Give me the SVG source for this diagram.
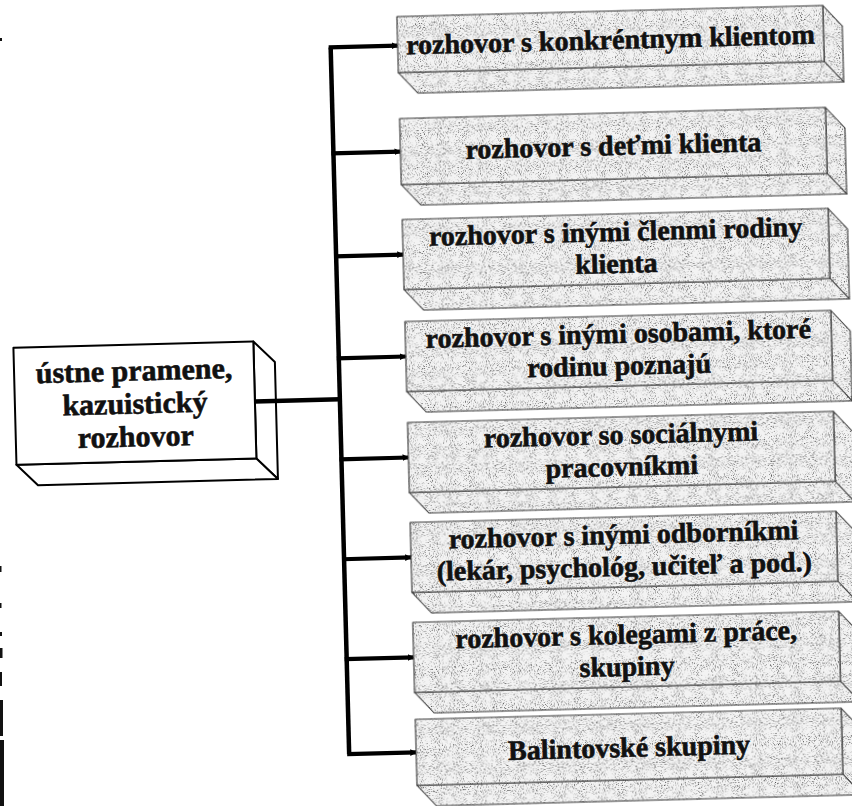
<svg xmlns="http://www.w3.org/2000/svg" width="852" height="806" viewBox="0 0 852 806">
  <defs>
    <!-- speckled stipple used on the shaded slabs -->
    <filter id="grain" x="-5%" y="-5%" width="110%" height="110%" color-interpolation-filters="sRGB">
      <feTurbulence type="fractalNoise" baseFrequency="0.95" numOctaves="2" seed="7" result="noise"/>
      <feColorMatrix in="noise" type="matrix" values="0 0 0 0 0.25  0 0 0 0 0.25  0 0 0 0 0.25  3.2 0 0 0 -1.72" result="dots"/>
      <feComposite in="dots" in2="SourceGraphic" operator="in" result="clipped"/>
      <feMerge>
        <feMergeNode in="SourceGraphic"/>
        <feMergeNode in="clipped"/>
      </feMerge>
    </filter>
    <marker id="tip" viewBox="0 0 8 8" refX="7" refY="4" markerWidth="1.6" markerHeight="1.6" orient="auto">
      <path d="M0,0 L8,4 L0,8 Z" fill="#000"/>
    </marker>
    <style>
      .face { fill: #f3f3f3; stroke: #3a3a3a; stroke-width: 1.1; stroke-linejoin: round; }
      .slab { fill: #ffffff; stroke: #000; stroke-width: 2; stroke-linejoin: round; }
      .lbl { font-family: "Liberation Serif", "Times New Roman", serif; font-weight: bold; font-size: 28px; text-anchor: middle; fill: #111; stroke: #111; stroke-width: 0.6; }
      .big { font-size: 30px; }
      .wire { fill: none; stroke: #000; stroke-width: 4.5; stroke-linejoin: round; stroke-linecap: butt; }
      .branch { fill: none; stroke: #000; stroke-width: 4.2; marker-end: url(#tip); }
    </style>
  </defs>

  <rect width="852" height="806" fill="#fff"/>

  <!-- whole sheet sits slightly tilted -->
  <g transform="rotate(-1.5 426 403)">

    <!-- source node -->
    <g id="zdroj">
      <path class="slab" d="M255,337 L276,358 L276,475 L255,454 Z"/>
      <path class="slab" d="M15,454 L255,454 L276,475 L36,475 Z"/>
      <rect class="slab" x="15" y="337" width="240" height="117"/>
      <text class="lbl big" x="135" y="373">ústne pramene,</text>
      <text class="lbl big" x="135" y="406">kazuistický</text>
      <text class="lbl big" x="135" y="439">rozhovor</text>
    </g>

    <!-- connectors -->
    <g id="spojnice">
      <path class="wire" d="M255,397 H340"/>
      <path class="wire" d="M340,752 V45"/>
      <path class="branch" d="M338,45 H407"/>
      <path class="branch" d="M338,151 H407"/>
      <path class="branch" d="M338,254 H407"/>
      <path class="branch" d="M338,356 H407"/>
      <path class="branch" d="M338,457 H407"/>
      <path class="branch" d="M338,557 H407"/>
      <path class="branch" d="M338,657 H407"/>
      <path class="branch" d="M338,752 H407"/>
    </g>

    <!-- target nodes: front face 407..833, depth 19/21 -->
    <g id="n1">
      <g filter="url(#grain)">
        <path class="face" d="M833,16 L852,37 L852,93 L833,72 Z"/>
        <path class="face" d="M407,72 L833,72 L852,93 L426,93 Z"/>
        <rect class="face" x="407" y="16" width="426" height="56"/>
      </g>
      <text class="lbl" x="620" y="54">rozhovor s konkréntnym klientom</text>
    </g>

    <g id="n2">
      <g filter="url(#grain)">
        <path class="face" d="M833,118 L852,139 L852,205 L833,184 Z"/>
        <path class="face" d="M407,184 L833,184 L852,205 L426,205 Z"/>
        <rect class="face" x="407" y="118" width="426" height="66"/>
      </g>
      <text class="lbl" x="620" y="160">rozhovor s deťmi klienta</text>
    </g>

    <g id="n3">
      <g filter="url(#grain)">
        <path class="face" d="M833,219 L852,240 L852,310 L833,289 Z"/>
        <path class="face" d="M407,289 L833,289 L852,310 L426,310 Z"/>
        <rect class="face" x="407" y="219" width="426" height="70"/>
      </g>
      <text class="lbl" x="620" y="246">rozhovor s inými členmi rodiny</text>
      <text class="lbl" x="620" y="278">klienta</text>
    </g>

    <g id="n4">
      <g filter="url(#grain)">
        <path class="face" d="M833,321 L852,342 L852,412 L833,391 Z"/>
        <path class="face" d="M407,391 L833,391 L852,412 L426,412 Z"/>
        <rect class="face" x="407" y="321" width="426" height="70"/>
      </g>
      <text class="lbl" x="620" y="348">rozhovor s inými osobami, ktoré</text>
      <text class="lbl" x="620" y="380">rodinu poznajú</text>
    </g>

    <g id="n5">
      <g filter="url(#grain)">
        <path class="face" d="M833,422 L852,443 L852,513 L833,492 Z"/>
        <path class="face" d="M407,492 L833,492 L852,513 L426,513 Z"/>
        <rect class="face" x="407" y="422" width="426" height="70"/>
      </g>
      <text class="lbl" x="620" y="449">rozhovor so sociálnymi</text>
      <text class="lbl" x="620" y="481">pracovníkmi</text>
    </g>

    <g id="n6">
      <g filter="url(#grain)">
        <path class="face" d="M833,522 L852,543 L852,613 L833,592 Z"/>
        <path class="face" d="M407,592 L833,592 L852,613 L426,613 Z"/>
        <rect class="face" x="407" y="522" width="426" height="70"/>
      </g>
      <text class="lbl" x="620" y="549">rozhovor s inými odborníkmi</text>
      <text class="lbl" x="620" y="581">(lekár, psychológ, učiteľ a pod.)</text>
    </g>

    <g id="n7">
      <g filter="url(#grain)">
        <path class="face" d="M833,622 L852,643 L852,713 L833,692 Z"/>
        <path class="face" d="M407,692 L833,692 L852,713 L426,713 Z"/>
        <rect class="face" x="407" y="622" width="426" height="70"/>
      </g>
      <text class="lbl" x="620" y="649">rozhovor s kolegami z práce,</text>
      <text class="lbl" x="620" y="681">skupiny</text>
    </g>

    <g id="n8">
      <g filter="url(#grain)">
        <path class="face" d="M833,719 L852,740 L852,806 L833,785 Z"/>
        <path class="face" d="M407,785 L833,785 L852,806 L426,806 Z"/>
        <rect class="face" x="407" y="719" width="426" height="66"/>
      </g>
      <text class="lbl" x="620" y="762">Balintovské skupiny</text>
    </g>
  </g>

  <!-- dark binding edge along the left margin -->
  <g fill="#111">
    <rect x="0" y="38" width="2" height="3"/>
    <rect x="0" y="566" width="1.5" height="6"/>
    <rect x="0" y="603" width="1.5" height="5"/>
    <rect x="0" y="632" width="2" height="4"/>
    <rect x="0" y="648" width="2.5" height="10"/>
    <rect x="0" y="672" width="2" height="14"/>
    <rect x="0" y="700" width="3" height="36"/>
    <rect x="0" y="740" width="4" height="66"/>
  </g>
</svg>
